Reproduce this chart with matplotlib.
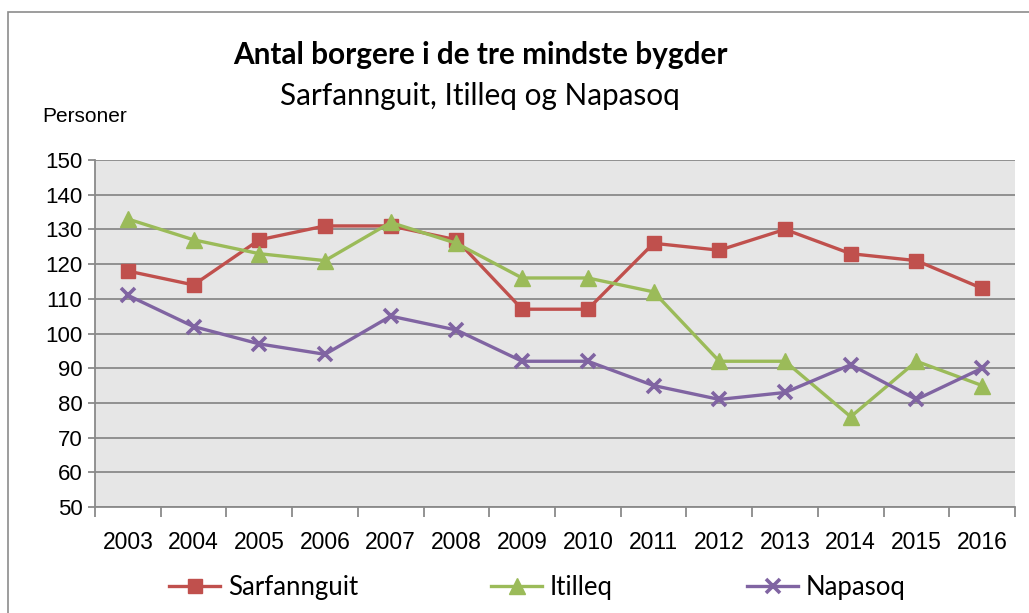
import matplotlib
matplotlib.use("Agg")
import matplotlib.pyplot as plt
from matplotlib.patches import Rectangle
import numpy as np

years = ["2003", "2004", "2005", "2006", "2007", "2008", "2009", "2010",
         "2011", "2012", "2013", "2014", "2015", "2016"]
sarfannguit = [118, 114, 127, 131, 131, 127, 107, 107, 126, 124, 130, 123, 121, 113]
itilleq = [133, 127, 123, 121, 132, 126, 116, 116, 112, 92, 92, 76, 92, 85]
napasoq = [111, 102, 97, 94, 105, 101, 92, 92, 85, 81, 83, 91, 81, 90]
yticks = [50, 60, 70, 80, 90, 100, 110, 120, 130, 140, 150]

W, H = 1029, 613
fig = plt.figure(figsize=(W / 100, H / 100), dpi=100)
fig.patch.set_facecolor("white")

# outer chart border
fig.patches.append(Rectangle((8 / W, -0.05), 1.2, 1 - 12 / H + 0.05,
                             transform=fig.transFigure, fill=False,
                             edgecolor="#8c8c8c", linewidth=1.2))

ax = fig.add_axes([95 / W, 1 - 507 / H, (1015 - 95) / W, (507 - 160) / H])
ax.set_facecolor("#e6e6e6")

x = np.arange(len(years))
red, green, purple = "#c0504d", "#9bbb59", "#8064a2"
l1, = ax.plot(x, sarfannguit, color=red, lw=2.4, marker="s", ms=10,
              mfc=red, mec=red, label="Sarfannguit", zorder=3)
l2, = ax.plot(x, itilleq, color=green, lw=2.4, marker="^", ms=11,
              mfc=green, mec=green, label="Itilleq", zorder=4)
l3, = ax.plot(x, napasoq, color=purple, lw=2.4, marker="x", ms=10, mew=2.6,
              mec=purple, label="Napasoq", zorder=5)

ax.set_xlim(-0.5, len(years) - 0.5)
ax.set_ylim(50, 150)
ax.set_yticks(yticks)
ax.yaxis.grid(True, color="#8a8a8a", lw=1.3)
ax.set_axisbelow(True)

ax.set_xticks(np.arange(-0.5, len(years), 1.0))
ax.set_xticklabels([])
ax.set_xticks(x, minor=True)
ax.set_xticklabels(years, minor=True)
ax.tick_params(axis="x", which="major", length=7, width=1.3, color="#8a8a8a",
               direction="out")
ax.tick_params(axis="x", which="minor", length=0, pad=17, labelsize=16.5)
ax.tick_params(axis="y", length=5, width=1.3, color="#8a8a8a",
               direction="out", labelsize=16, pad=4)
for lab in ax.get_xticklabels(minor=True) + ax.get_yticklabels():
    lab.set_fontfamily("Liberation Sans")

for s in ["top", "right"]:
    ax.spines[s].set_visible(False)
for s in ["left", "bottom"]:
    ax.spines[s].set_color("#8a8a8a")
    ax.spines[s].set_linewidth(1.3)

fig.text(480 / W, 1 - 55 / H, "Antal borgere i de tre mindste bygder",
         ha="center", va="center", fontsize=21.4, fontweight="bold",
         family="Lato")
fig.text(480 / W, 1 - 96 / H, "Sarfannguit, Itilleq og Napasoq",
         ha="center", va="center", fontsize=21.4, family="Lato")
fig.text(42 / W, 1 - 117 / H, "Personer", ha="left", va="center",
         fontsize=15, family="Liberation Sans")

entries = [(l1, "Sarfannguit", 169), (l2, "Itilleq", 491), (l3, "Napasoq", 747)]
for h, name, px in entries:
    lg = fig.legend([h], [name], loc="center left",
                    bbox_to_anchor=(px / W, 1 - 587 / H), frameon=False,
                    handlelength=2.0, handletextpad=0.3, borderpad=0,
                    borderaxespad=0,
                    prop={"family": "Lato", "size": 18.5})

fig.savefig("out.png", dpi=100)
